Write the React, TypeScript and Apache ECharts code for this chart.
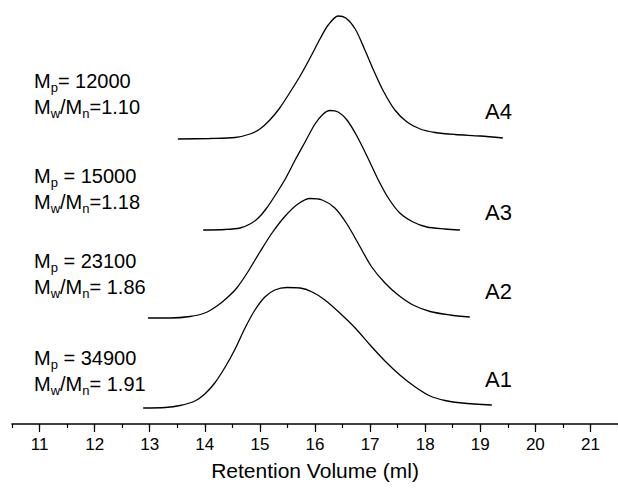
import React, { useEffect, useRef } from "react";
import * as echarts from "echarts";

// Retention volume (ml) vs detector signal (arbitrary units, offset per trace)
const curveNames = ["A1", "A2", "A3", "A4"];

const a1: [number, number][] = [
  [12.88, 16], [13.28, 16.5], [13.55, 18.5], [13.82, 23], [14.0, 30], [14.18, 41],
  [14.37, 57], [14.55, 75], [14.73, 96], [14.91, 114], [15.09, 127], [15.27, 134],
  [15.49, 136.5], [15.73, 136], [15.95, 132], [16.18, 124], [16.45, 111], [16.73, 96],
  [17.0, 79], [17.27, 63], [17.54, 49], [17.82, 37], [18.09, 28], [18.36, 23.5],
  [18.67, 21], [19.21, 19],
];
const a2: [number, number][] = [
  [12.97, 106], [13.37, 106], [13.73, 107.5], [14.0, 111], [14.22, 118], [14.4, 126],
  [14.58, 136], [14.78, 152], [15.0, 172], [15.22, 191], [15.46, 208], [15.69, 220],
  [15.91, 225.5], [16.13, 224], [16.36, 216], [16.58, 200], [16.82, 177], [17.03, 157],
  [17.27, 141], [17.51, 129], [17.78, 119], [18.09, 112.5], [18.45, 109], [18.81, 107],
];
const a3: [number, number][] = [
  [13.97, 194], [14.37, 194.5], [14.64, 196], [14.82, 200], [14.97, 206], [15.11, 215],
  [15.27, 228], [15.46, 245], [15.64, 264], [15.82, 282], [16.0, 300], [16.15, 310],
  [16.27, 313.5], [16.42, 312], [16.58, 304], [16.76, 288], [16.96, 266], [17.14, 245],
  [17.33, 226], [17.54, 211], [17.78, 202], [18.03, 197], [18.36, 195], [18.63, 194],
];
const a4: [number, number][] = [
  [13.51, 285], [14.09, 285.5], [14.55, 286.5], [14.82, 290], [15.0, 295], [15.18, 304],
  [15.36, 316], [15.55, 332], [15.73, 348], [15.91, 366], [16.09, 385], [16.24, 399],
  [16.42, 408], [16.56, 406], [16.73, 395], [16.89, 376], [17.07, 353], [17.25, 332],
  [17.45, 314], [17.67, 302], [17.91, 295], [18.18, 291.5], [18.54, 289.5], [19.0, 288],
  [19.41, 286],
];
const curves = [a1, a2, a3, a4];

const mpValues = ["34900", "23100", "15000", "12000"];
const mpSeparators = [" = ", " = ", " = ", "= "];
const pdiValues = ["1.91", "1.86", "1.18", "1.10"];
const pdiSeparators = ["= ", "= ", "=", "="];

const tickValues = [11, 12, 13, 14, 15, 16, 17, 18, 19, 20, 21];
const xMin = 10.5;
const xMax = 21.5;

const FONT = "'Liberation Sans', Arial, Helvetica, sans-serif";

export default function App() {
  const ref = useRef<HTMLDivElement>(null);

  useEffect(() => {
    if (!ref.current) return;
    const chart = echarts.init(ref.current, undefined, { renderer: "svg" });

    const blockTops = [348, 251, 166, 71];
    const labelTops = [368, 280, 201, 100];

    const graphics: any[] = [];
    curveNames.forEach((name, i) => {
      graphics.push({
        type: "text",
        left: 34,
        top: blockTops[i],
        style: {
          text:
            `{b|M}{s|p}{b|${mpSeparators[i]}${mpValues[i]}}\n` +
            `{b|M}{s|w}{b|/M}{s|n}{b|${pdiSeparators[i]}${pdiValues[i]}}`,
          rich: {
            b: { fontSize: 20, lineHeight: 26, fontFamily: FONT, fill: "#000", color: "#000" },
            s: {
              fontSize: 13,
              lineHeight: 13,
              verticalAlign: "bottom",
              fontFamily: FONT,
              fill: "#000",
              color: "#000",
            },
          },
          fill: "#000",
          font: `20px ${FONT}`,
        },
      });
      graphics.push({
        type: "text",
        left: 485,
        top: labelTops[i],
        style: {
          text: name,
          fill: "#000",
          font: `22px ${FONT}`,
        },
      });
    });

    chart.setOption({
      animation: false,
      backgroundColor: "#fff",
      grid: { left: 12, right: 0, top: 0, bottom: 67, containLabel: false },
      xAxis: [
        {
          type: "value",
          position: "bottom",
          min: xMin,
          max: xMax,
          interval: 0.5,
          axisLine: { show: true, lineStyle: { color: "#000", width: 1.6 } },
          axisTick: { show: true, length: 4, lineStyle: { color: "#000", width: 1.2 } },
          axisLabel: { show: false },
          splitLine: { show: false },
        },
        {
          type: "value",
          position: "bottom",
          min: xMin,
          max: xMax,
          axisLine: { show: false },
          axisTick: {
            show: true,
            length: 8,
            customValues: tickValues,
            lineStyle: { color: "#000", width: 1.2 },
          },
          axisLabel: {
            show: true,
            customValues: tickValues,
            margin: 12,
            color: "#000",
            fontSize: 17,
            fontFamily: FONT,
          },
          splitLine: { show: false },
          name: "Retention Volume (ml)",
          nameLocation: "middle",
          nameGap: 36,
          nameTextStyle: { color: "#000", fontSize: 21, fontFamily: FONT },
        },
      ],
      yAxis: {
        type: "value",
        min: 0,
        max: 424,
        show: false,
      },
      series: curves.map((data, i) => ({
        name: curveNames[i],
        type: "line",
        xAxisIndex: 0,
        data,
        smooth: 0.3,
        showSymbol: false,
        symbol: "none",
        lineStyle: { color: "#000", width: 1.3 },
      })),
      graphic: graphics,
    });

    return () => chart.dispose();
  }, []);

  return (
    <div
      ref={ref}
      style={{ position: "fixed", left: 0, top: 0, width: 618, height: 491, background: "#fff" }}
    />
  );
}
